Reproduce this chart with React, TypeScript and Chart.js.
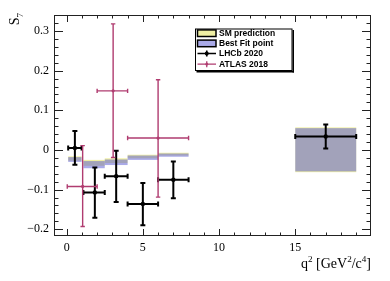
import React, { useEffect, useRef } from 'react';
import { Chart, registerables } from 'chart.js';

Chart.register(...registerables);

// ---- data ----
const xTicks = [0, 5, 10, 15];
const yTicks = [-0.2, -0.1, 0, 0.1, 0.2, 0.3];

const lhcbX = [0.54, 1.85, 3.25, 5.0, 7.0, 17.0];
const lhcbXLo = [0.1, 1.1, 2.5, 4.0, 6.0, 15.0];
const lhcbXHi = [0.98, 2.5, 4.0, 6.0, 8.0, 19.0];
const lhcbY = [0.005, -0.107, -0.066, -0.136, -0.075, 0.034];
const lhcbErrHi = [0.043, 0.063, 0.064, 0.053, 0.046, 0.030];
const lhcbErrLo = [0.042, 0.064, 0.065, 0.054, 0.047, 0.030];

const atlasX = [1.05, 3.05, 6.0];
const atlasXLo = [0.04, 2.0, 4.0];
const atlasXHi = [2.0, 4.0, 8.0];
const atlasY = [-0.092, 0.149, 0.030];
const atlasErrHi = [0.103, 0.169, 0.147];
const atlasErrLo = [0.101, 0.168, 0.149];

const binLo = [0.1, 1.1, 2.5, 4.0, 6.0, 15.0];
const binHi = [0.98, 2.5, 4.0, 6.0, 8.0, 19.0];
const smLo = [-0.027, -0.040, -0.033, -0.021, -0.014, -0.056];
const smHi = [-0.016, -0.025, -0.021, -0.012, -0.007, 0.057];
const bfLo = [-0.030, -0.046, -0.038, -0.025, -0.017, -0.054];
const bfHi = [-0.018, -0.028, -0.024, -0.014, -0.009, 0.055];

const X_MIN = -0.83;
const X_MAX = 19.97;
const Y_MIN = -0.2169;
const Y_MAX = 0.3403;

const SM_FILL = 'rgba(225,225,90,0.55)';
const BF_FILL = 'rgba(85,85,210,0.5)';
const PURPLE = '#b03c70';
const SERIF = '"Liberation Serif", "DejaVu Serif", serif';
const SANS = '"Liberation Sans", Arial, sans-serif';

function drawErrors(
  chart: any, xs: number[], ys: number[], xlo: number[], xhi: number[],
  el: number[], eh: number[], color: string, lw: number, cap: number
) {
  const ctx = chart.ctx;
  const sx = chart.scales.x;
  const sy = chart.scales.y;
  ctx.save();
  ctx.strokeStyle = color;
  ctx.lineWidth = lw;
  ctx.lineCap = 'butt';
  for (let i = 0; i < xs.length; i++) {
    const px = sx.getPixelForValue(xs[i]);
    const py = sy.getPixelForValue(ys[i]);
    const pl = sx.getPixelForValue(xlo[i]);
    const ph = sx.getPixelForValue(xhi[i]);
    const pt = sy.getPixelForValue(ys[i] + eh[i]);
    const pb = sy.getPixelForValue(ys[i] - el[i]);
    ctx.beginPath();
    ctx.moveTo(pl, py); ctx.lineTo(ph, py);
    ctx.moveTo(pl, py - cap); ctx.lineTo(pl, py + cap);
    ctx.moveTo(ph, py - cap); ctx.lineTo(ph, py + cap);
    ctx.moveTo(px, pt); ctx.lineTo(px, pb);
    ctx.moveTo(px - cap, pt); ctx.lineTo(px + cap, pt);
    ctx.moveTo(px - cap, pb); ctx.lineTo(px + cap, pb);
    ctx.stroke();
  }
  ctx.restore();
}

const bandsPlugin = {
  id: 'bands',
  beforeDatasetsDraw(chart: any) {
    const ctx = chart.ctx;
    const sx = chart.scales.x;
    const sy = chart.scales.y;
    ctx.save();
    const ca = chart.chartArea;
    ctx.beginPath();
    ctx.rect(ca.left, ca.top, ca.right - ca.left, ca.bottom - ca.top);
    ctx.clip();
    const fill = (lo: number[], hi: number[], color: string) => {
      ctx.fillStyle = color;
      for (let i = 0; i < binLo.length; i++) {
        const x0 = sx.getPixelForValue(binLo[i]);
        const x1 = sx.getPixelForValue(binHi[i]);
        const y0 = sy.getPixelForValue(hi[i]);
        const y1 = sy.getPixelForValue(lo[i]);
        ctx.fillRect(x0, y0, x1 - x0, y1 - y0);
      }
    };
    fill(smLo, smHi, SM_FILL);
    fill(bfLo, bfHi, BF_FILL);
    drawErrors(chart, lhcbX, lhcbY, lhcbXLo, lhcbXHi, lhcbErrLo, lhcbErrHi, '#000', 2, 2.5);
    drawErrors(chart, atlasX, atlasY, atlasXLo, atlasXHi, atlasErrLo, atlasErrHi, PURPLE, 1.4, 2.2);
    ctx.restore();
  },
};

function drawRich(ctx: any, parts: { t: string; s?: number }[], x: number, y: number, size: number, alignRight: boolean) {
  // s: 1 = superscript, -1 = subscript
  let total = 0;
  const widths: number[] = [];
  for (const p of parts) {
    const fs = p.s ? size * 0.65 : size;
    ctx.font = `${fs}px ${SERIF}`;
    const w = ctx.measureText(p.t).width;
    widths.push(w);
    total += w;
  }
  let cx = alignRight ? x - total : x;
  parts.forEach((p, i) => {
    const fs = p.s ? size * 0.65 : size;
    ctx.font = `${fs}px ${SERIF}`;
    const dy = p.s === 1 ? -size * 0.4 : p.s === -1 ? size * 0.25 : 0;
    ctx.fillText(p.t, cx, y + dy);
    cx += widths[i];
  });
}

const framePlugin = {
  id: 'frame',
  afterDraw(chart: any) {
    const ctx = chart.ctx;
    const ca = chart.chartArea;
    const sx = chart.scales.x;
    const sy = chart.scales.y;
    ctx.save();
    ctx.strokeStyle = '#222';
    ctx.lineWidth = 1;
    ctx.strokeRect(Math.round(ca.left) + 0.5, Math.round(ca.top) + 0.5,
      Math.round(ca.right - ca.left) - 1, Math.round(ca.bottom - ca.top) - 1);
    ctx.beginPath();
    // x ticks
    for (let v = Math.ceil(X_MIN); v <= Math.floor(X_MAX); v++) {
      const major = xTicks.includes(v);
      const len = major ? 7 : 3.5;
      const px = Math.round(sx.getPixelForValue(v)) + 0.5;
      ctx.moveTo(px, ca.bottom); ctx.lineTo(px, ca.bottom - len);
      ctx.moveTo(px, ca.top); ctx.lineTo(px, ca.top + len);
    }
    // y ticks
    for (let k = Math.ceil(Y_MIN / 0.02); k <= Math.floor(Y_MAX / 0.02); k++) {
      const v = k * 0.02;
      const major = k % 5 === 0;
      const len = major ? 9 : 4.5;
      const py = Math.round(sy.getPixelForValue(v)) + 0.5;
      ctx.moveTo(ca.left, py); ctx.lineTo(ca.left + len, py);
      ctx.moveTo(ca.right, py); ctx.lineTo(ca.right - len, py);
    }
    ctx.stroke();

    // axis titles
    ctx.fillStyle = '#000';
    ctx.textBaseline = 'alphabetic';
    ctx.textAlign = 'left';
    drawRich(ctx, [{ t: 'q' }, { t: '2', s: 1 }, { t: ' [GeV' }, { t: '2', s: 1 }, { t: '/c' }, { t: '4', s: 1 }, { t: ']' }],
      ca.right, ca.bottom + 32, 14, true);
    ctx.save();
    ctx.translate(ca.left - 35, ca.top - 2);
    ctx.rotate(-Math.PI / 2);
    drawRich(ctx, [{ t: 'S' }, { t: '7', s: -1 }], 0, 0, 14, true);
    ctx.restore();

    // legend
    const lx = ca.left + 141;
    const ly = ca.top + 13.5;
    const lw = 97.5;
    const lh = 42.5;
    ctx.fillStyle = '#fff';
    ctx.fillRect(lx, ly, lw, lh);
    ctx.fillStyle = '#000';
    ctx.fillRect(lx + lw, ly + 1.5, 1.5, lh);
    ctx.fillRect(lx + 1.5, ly + lh, lw, 1.5);
    ctx.strokeStyle = '#000';
    ctx.lineWidth = 1;
    ctx.strokeRect(lx + 0.5, ly + 0.5, lw - 1, lh - 1);

    const sxL = lx + 2.5;
    const sw = 18.5;
    const rows = [ly + 4.7, ly + 14.9, ly + 25, ly + 35.7];
    // SM
    const box = (cy: number, color: string) => {
      ctx.fillStyle = '#fff';
      ctx.fillRect(sxL, cy - 3.3, sw, 6.6);
      ctx.fillStyle = color;
      ctx.fillRect(sxL, cy - 3.3, sw, 6.6);
      ctx.strokeStyle = '#000';
      ctx.lineWidth = 1.5;
      ctx.strokeRect(sxL, cy - 3.3, sw, 6.6);
    };
    box(rows[0], SM_FILL);
    box(rows[1], BF_FILL);
    const markerRow = (cy: number, color: string, lwid: number, r: number) => {
      ctx.strokeStyle = color;
      ctx.lineWidth = lwid;
      ctx.beginPath();
      ctx.moveTo(sxL, cy); ctx.lineTo(sxL + sw, cy);
      const mx = sxL + sw / 2;
      ctx.moveTo(mx, cy - 3); ctx.lineTo(mx, cy + 3);
      ctx.stroke();
      ctx.fillStyle = color;
      ctx.beginPath();
      ctx.arc(mx, cy, r, 0, Math.PI * 2);
      ctx.fill();
    };
    markerRow(rows[2], '#000', 1.6, 2);
    markerRow(rows[3], PURPLE, 1.3, 1.4);
    ctx.fillStyle = '#000';
    ctx.font = `bold 8.5px ${SANS}`;
    ctx.textBaseline = 'middle';
    const labels = ['SM prediction', 'Best Fit point', 'LHCb 2020', 'ATLAS 2018'];
    labels.forEach((t, i) => ctx.fillText(t, lx + 24, rows[i] + 0.5));
    ctx.restore();
  },
};

function fmtY(v: number): string {
  const r = Math.round(v * 10) / 10;
  if (r === 0) return '0';
  return r < 0 ? '\u2212' + Math.abs(r).toString() : r.toString();
}

export default function App() {
  const ref = useRef<HTMLCanvasElement>(null);
  useEffect(() => {
    document.body.style.margin = '0';
    const chart = new Chart(ref.current as HTMLCanvasElement, {
      type: 'scatter',
      data: {
        datasets: [
          {
            label: 'LHCb 2020',
            data: lhcbX.map((x, i) => ({ x, y: lhcbY[i] })),
            pointRadius: 2.2,
            pointBackgroundColor: '#000',
            pointBorderWidth: 0,
            showLine: false,
          },
          {
            label: 'ATLAS 2018',
            data: atlasX.map((x, i) => ({ x, y: atlasY[i] })),
            pointRadius: 1.6,
            pointBackgroundColor: PURPLE,
            pointBorderWidth: 0,
            showLine: false,
          },
        ],
      },
      options: {
        responsive: false,
        animation: false,
        devicePixelRatio: 1,
        events: [],
        layout: { padding: { top: 15, right: 19, left: 0, bottom: 0 } },
        plugins: { legend: { display: false }, tooltip: { enabled: false } },
        scales: {
          x: {
            type: 'linear',
            min: X_MIN,
            max: X_MAX,
            afterFit: (s: any) => { s.height = 45; },
            afterBuildTicks: (s: any) => { s.ticks = xTicks.map((v) => ({ value: v })); },
            grid: { display: false, drawTicks: false },
            border: { display: false },
            ticks: {
              padding: 5,
              maxRotation: 0,
              autoSkip: false,
              color: '#000',
              font: { family: SERIF, size: 12 },
              callback: (v: any) => String(v),
            },
          },
          y: {
            type: 'linear',
            min: Y_MIN,
            max: Y_MAX,
            afterFit: (s: any) => { s.width = 54; },
            afterBuildTicks: (s: any) => { s.ticks = yTicks.map((v) => ({ value: v })); },
            grid: { display: false, drawTicks: false },
            border: { display: false },
            ticks: {
              padding: 5,
              autoSkip: false,
              color: '#000',
              font: { family: SERIF, size: 12 },
              callback: (v: any) => fmtY(Number(v)),
            },
          },
        },
      },
      plugins: [bandsPlugin, framePlugin],
    } as any);
    return () => chart.destroy();
  }, []);
  return (
    <div style={{ position: 'absolute', left: 0, top: 0, width: 390, height: 281 }}>
      <canvas ref={ref} width={390} height={281} style={{ display: 'block' }} />
    </div>
  );
}
